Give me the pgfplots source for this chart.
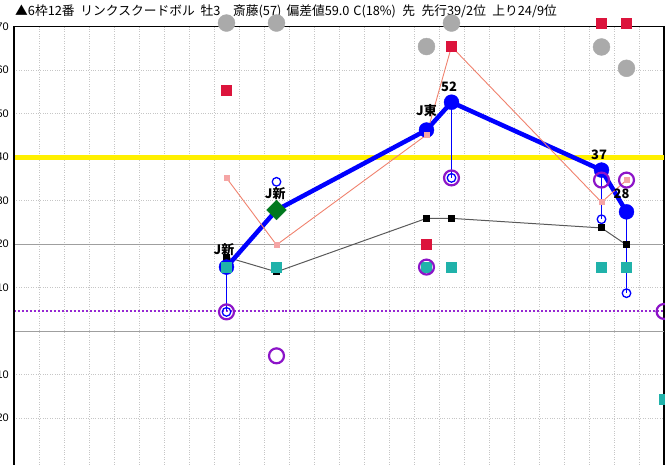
\documentclass[border=0pt]{standalone}
\usepackage{pgfplots}
\pgfplotsset{compat=1.18}
\usepackage{fontspec}
\setmainfont{Liberation Sans}
\newfontfamily\cjk{Noto Sans CJK JP}

\definecolor{lineyellow}{RGB}{255,240,0}
\definecolor{dotpurple}{RGB}{150,40,210}
\definecolor{ringpurple}{RGB}{140,20,200}
\definecolor{salmonline}{RGB}{240,130,110}
\definecolor{pinksq}{RGB}{245,165,165}
\definecolor{redsq}{RGB}{220,20,60}
\definecolor{tealsq}{RGB}{32,178,170}
\definecolor{graydot}{RGB}{170,170,170}
\definecolor{darkgreen}{RGB}{0,120,30}
\definecolor{runblue}{RGB}{0,0,255}

\begin{document}
\begin{tikzpicture}
\begin{axis}[
  x=25bp, y=4.35bp,
  xmin=0, xmax=26, ymin=-40, ymax=70,
  axis line style={black, line width=1.5bp},
  xtick={1,...,25}, xticklabels={},
  ytick={-20,-10,10,20,30,40,50,60,70},
  major tick length=0pt,
  grid=major,
  major grid style={gray!45, dotted, line width=0.8bp},
  extra y ticks={0,20},
  extra y tick labels={},
  extra y tick style={grid=major, major grid style={gray!75, solid, line width=0.6bp}},
  clip=false,
  yticklabel style={font=\fontsize{11}{11}\selectfont, anchor=east, inner sep=0pt, xshift=-5bp},
  /pgf/number format/assume math mode=true,
]
% title
\node[anchor=west, inner sep=0pt, font=\cjk\fontsize{12.8}{14}\selectfont]
  at (axis cs:0.04,73.4) {▲6枠12番\hspace{0.45em}リンクスクードボル\hspace{0.45em}牡3\hspace{1em}斎藤(57)\hspace{0.4em}偏差値59.0\hspace{0.3em}C(18\%)\hspace{0.5em}先\hspace{0.5em}先行39/2位\hspace{0.5em}上り24/9位};

% reference lines
\addplot[lineyellow, line width=5bp] coordinates {(0,40) (26,40)};
\addplot[dotpurple, dotted, line width=2bp] coordinates {(0,4.5) (26,4.5)};

% gray circles
\addplot[only marks, mark=*, mark size=8.5, graydot, mark options={draw=graydot, fill=graydot}]
  coordinates {(8.5,70.8) (10.5,70.8) (16.5,65.4) (17.5,70.8) (23.5,65.3) (24.5,60.4)};

% black line
\addplot[black!65, line width=1bp, mark=square*, mark size=3, mark options={draw=black, fill=black}]
  coordinates {(8.5,17) (10.5,13.6) (16.5,25.9) (17.5,25.9) (23.5,23.7) (24.5,19.8)};

% blue drop lines
\addplot[runblue, line width=1.2bp] coordinates {(8.5,14.7) (8.5,4.5)};
\addplot[runblue, line width=1.2bp] coordinates {(17.5,52.6) (17.5,35.2)};
\addplot[runblue, line width=1.2bp] coordinates {(23.5,37.0) (23.5,25.7)};
\addplot[runblue, line width=1.2bp] coordinates {(24.5,27.4) (24.5,8.7)};

% blue main line
\addplot[runblue, line width=4.5bp]
  coordinates {(8.5,14.7) (10.5,27.8) (16.5,46.2) (17.5,52.6) (23.5,37.0) (24.5,27.4)};
\addplot[only marks, mark=*, mark size=7.5, mark options={draw=runblue, fill=runblue}]
  coordinates {(8.5,14.7) (16.5,46.2) (17.5,52.6) (23.5,37.0) (24.5,27.4)};

% green diamond
\addplot[only marks, mark=square*, mark size=7, mark options={rotate=45, draw=darkgreen, fill=darkgreen}]
  coordinates {(10.5,27.8)};

% salmon line
\addplot[salmonline, line width=0.9bp, mark=square*, mark size=2.5, mark options={draw=pinksq, fill=pinksq}]
  coordinates {(8.5,35.2) (10.5,19.8) (16.5,45.1) (17.5,65.4) (23.5,29.6) (24.5,34.7)};

% red squares
\addplot[only marks, mark=square*, mark size=5, mark options={draw=redsq, fill=redsq}]
  coordinates {(8.5,55.4) (16.5,20) (17.5,65.4) (23.5,70.7) (24.5,70.7)};

% teal squares
\addplot[only marks, mark=square*, mark size=5, mark options={draw=tealsq, fill=tealsq}]
  coordinates {(8.5,14.7) (10.5,14.7) (16.5,14.7) (17.5,14.7) (23.5,14.7) (24.5,14.7) (26,-15.6)};

% purple rings
\addplot[only marks, mark=o, mark size=7.5, mark options={draw=ringpurple, line width=2.2bp}]
  coordinates {(8.5,4.4) (10.5,-5.7) (16.5,14.7) (17.5,35.2) (23.5,34.7) (24.5,34.7) (26,4.5)};

% small blue rings
\addplot[only marks, mark=o, mark size=4.3, mark options={draw=runblue, line width=1.3bp}]
  coordinates {(8.5,4.4) (10.5,34.3) (17.5,35.2) (23.5,25.7) (24.5,8.7)};

% labels
\begin{scope}[font=\cjk\bfseries\fontsize{13}{13}\selectfont, inner sep=0pt]
\node at (axis cs:8.4,18.6) {J新};
\node at (axis cs:10.45,31.5) {J新};
\node at (axis cs:16.5,50.6) {J東};
\node at (axis cs:17.4,56.1) {52};
\node at (axis cs:23.4,40.5) {37};
\node at (axis cs:24.3,31.5) {28};
\end{scope}

\draw[black, line width=2.5bp] (rel axis cs:0,0) -- (rel axis cs:0,1);

\coordinate (bl) at (axis cs:-0.56,-30.6);
\coordinate (tr) at (axis cs:26.04,76.1);
\end{axis}
\pgfresetboundingbox
\useasboundingbox (bl) rectangle (tr);
\end{tikzpicture}
\end{document}
